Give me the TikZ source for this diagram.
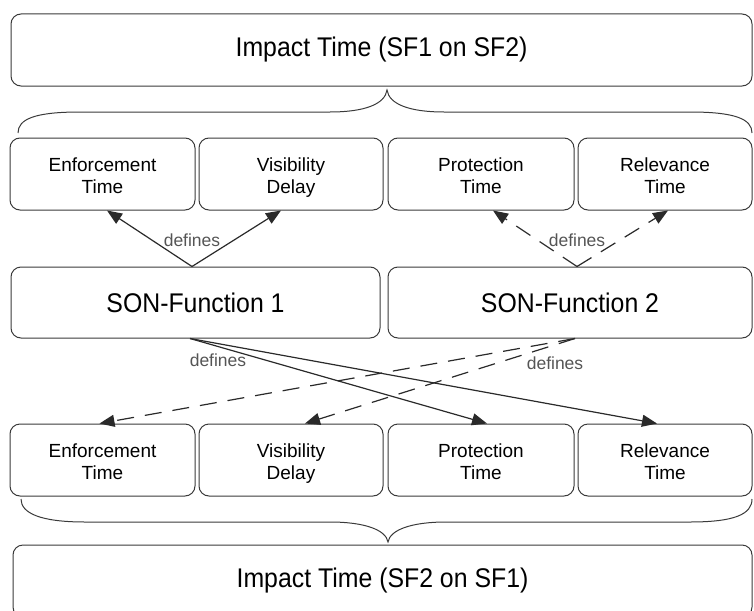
\documentclass[tikz,border=0pt]{standalone}
\usepackage{fontspec}
\setmainfont{Liberation Sans}
\newfontfamily\bigfont[FakeStretch=0.92]{Liberation Sans}
\usetikzlibrary{arrows.meta}
\definecolor{boxc}{HTML}{3A3A3A}
\definecolor{linec}{HTML}{2A2A2A}
\definecolor{lblc}{HTML}{555555}
\newcommand{\twol}[2]{\rule[-4pt]{0pt}{24pt}#1\\#2\rule[-4pt]{0pt}{4pt}}
\begin{document}
\begin{tikzpicture}[x=1pt,y=-1pt,
  box/.style={draw=boxc, line width=1pt, rounded corners=10pt, inner sep=0pt, align=center, text=black},
  bigbox/.style={box, font=\bigfont\fontsize{27}{30}\selectfont},
  smallbox/.style={box, font=\fontsize{19}{22}\selectfont, minimum height=72pt},
  conn/.style={draw=linec, line width=1.2pt, -{Triangle[length=15pt,width=12pt]}},
  dconn/.style={conn, dash pattern=on 17pt off 11pt},
  lbl/.style={text=lblc, font=\fontsize{17.5}{20}\selectfont, inner sep=0pt},
  brc/.style={draw=boxc, line width=1pt}
]
\useasboundingbox (0,0) rectangle (754,610);
\begin{scope}
\clip (0,0) rectangle (754,610);
% top impact box
\node[bigbox, minimum width=741pt, minimum height=72pt] (imp1) at (381.5,50) {Impact Time (SF1 on SF2)};
% row 1
\node[smallbox, minimum width=185pt] (et1) at (102.5,174) {\twol{Enforcement}{Time}};
\node[smallbox, minimum width=184pt] (vd1) at (291,174) {\twol{Visibility}{Delay}};
\node[smallbox, minimum width=186pt] (pt1) at (481,174) {\twol{Protection}{Time}};
\node[smallbox, minimum width=174pt] (rt1) at (665,174) {\twol{Relevance}{Time}};
% SON functions
\node[bigbox, minimum width=369pt, minimum height=71pt] (sf1) at (195.5,302.5) {SON-Function 1};
\node[bigbox, minimum width=364pt, minimum height=71pt] (sf2) at (570,302.5) {SON-Function 2};
% row 2
\node[smallbox, minimum width=185pt] (et2) at (102.5,460) {\twol{Enforcement}{Time}};
\node[smallbox, minimum width=184pt] (vd2) at (291,460) {\twol{Visibility}{Delay}};
\node[smallbox, minimum width=186pt] (pt2) at (481,460) {\twol{Protection}{Time}};
\node[smallbox, minimum width=174pt] (rt2) at (665,460) {\twol{Relevance}{Time}};
% bottom impact box
\node[bigbox, minimum width=739pt, minimum height=72pt] (imp2) at (382.5,581) {Impact Time (SF2 on SF1)};
% braces
\draw[brc] (18,133) .. controls (18,119) and (35,112) .. (80,112) -- (330,112)
  .. controls (365,112) and (385,104) .. (387,90)
  .. controls (389,104) and (409,112) .. (444,112) -- (690,112)
  .. controls (735,112) and (752,119) .. (752,133);
\draw[brc] (21,499) .. controls (21,513) and (40,522) .. (85,522) -- (330,522)
  .. controls (365,522) and (386,530) .. (388,542)
  .. controls (390,530) and (411,522) .. (446,522) -- (690,522)
  .. controls (735,522) and (752,514) .. (752,499);
% labels
\node[lbl] (d1) at (192,240) {defines};
\node[lbl] (d2) at (577,240) {defines};
\node[lbl] (d3) at (218,360) {defines};
\node[lbl] (d4) at (555,363) {defines};
% upper connectors
\draw[conn] ([xshift=-3.5pt]sf1.north) -- ([xshift=4.5pt]et1.south);
\draw[conn] ([xshift=-3.5pt]sf1.north) -- ([xshift=-10pt]vd1.south);
\draw[dconn] ([xshift=7pt]sf2.north) -- ([xshift=12pt]pt1.south);
\draw[dconn] ([xshift=7pt]sf2.north) -- ([xshift=3pt]rt1.south);
% lower connectors
\draw[conn] ([xshift=-5.5pt]sf1.south) -- ([xshift=6pt]pt2.north);
\draw[conn] ([xshift=-5.5pt]sf1.south) -- ([xshift=-8pt]rt2.north);
\draw[dconn] ([xshift=5pt]sf2.south) -- ([xshift=-3pt]et2.north);
\draw[dconn] ([xshift=5pt]sf2.south) -- ([xshift=14pt]vd2.north);
\end{scope}
\end{tikzpicture}
\end{document}
